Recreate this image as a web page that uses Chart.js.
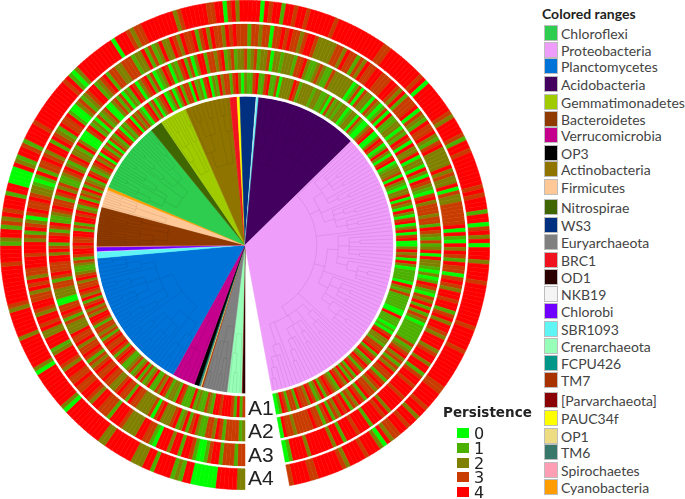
<!DOCTYPE html>
<html>
<head>
<meta charset="utf-8">
<title>Persistence tree</title>
<script src="https://cdn.jsdelivr.net/npm/chart.js@4"></script>
<style>
  html, body { margin: 0; background: #fff; }
  #page { position: relative; width: 685px; height: 499px; overflow: hidden; }
  #grafico { position: absolute; left: 0; top: 0; filter: blur(0.6px); }
  .txt { position: absolute; white-space: nowrap; line-height: 1; color: #444; }
  .cat { font: 14px Lato, sans-serif; }
  .sw { position: absolute; box-sizing: border-box; border: 1px solid #bdbdbd; }
  .ringlab { font: 21px "Liberation Sans", sans-serif; color: #222; }
  .perlab { font: 16px "DejaVu Sans", sans-serif; color: #222; }
</style>
</head>
<body>
<div id="page">
  <canvas id="grafico" width="490" height="490"></canvas>
</div>
<script>
// legend, same order as the picture
const phyla = ['Chloroflexi', 'Proteobacteria', 'Planctomycetes', 'Acidobacteria', 'Gemmatimonadetes',
  'Bacteroidetes', 'Verrucomicrobia', 'OP3', 'Actinobacteria', 'Firmicutes', 'Nitrospirae', 'WS3',
  'Euryarchaeota', 'BRC1', 'OD1', 'NKB19', 'Chlorobi', 'SBR1093', 'Crenarchaeota', 'FCPU426', 'TM7',
  '[Parvarchaeota]', 'PAUC34f', 'OP1', 'TM6', 'Spirochaetes', 'Cyanobacteria'];
const phylaColors = ['#2ecc4f', '#ee9dfb', '#0073d9', '#43005f', '#9fcb00',
  '#8f3a00', '#c4008c', '#000000', '#8f7500', '#ffc896', '#3f6600', '#00307f',
  '#808080', '#f0121e', '#2a0000', '#f4f4f4', '#7000ff', '#5ff5f5', '#98ffb8', '#009688', '#a83200',
  '#8b0000', '#ffff00', '#eedc82', '#38786a', '#ff9db4', '#ff9c00'];
const legendRows = [33, 49.5, 66, 84, 101.5, 119, 135, 153, 169, 187, 207, 225, 242,
  260, 277, 294, 311, 329, 346, 363, 380, 400, 418, 436, 452, 470, 487];

// clades round the inner circle, clockwise from the gap, in degrees
const cladeNames = ['OD1', '[Parvarchaeota]', 'Crenarchaeota', 'Euryarchaeota', 'TM7', 'OP1', 'TM6', 'FCPU426', 'OP3',
  'Verrucomicrobia', 'Planctomycetes', 'SBR1093', 'NKB19', 'Chlorobi', 'Spirochaetes', 'Bacteroidetes', 'Firmicutes',
  'Cyanobacteria', 'Chloroflexi', 'Nitrospirae', 'Gemmatimonadetes', 'Actinobacteria', 'BRC1', 'PAUC34f', 'WS3',
  'NKB19', 'SBR1093', 'Acidobacteria', 'Proteobacteria'];
const cladeDegrees = [1.0, 0.3, 5.7, 9.5, 0.6, 0.4, 0.4, 0.3, 1.8,
  9.0, 55.9, 2.5, 0.2, 1.6, 0.3, 15.4, 7.0,
  1.1, 27.8, 4.9, 10.7, 17.7, 2.8, 1.1, 6.3,
  0.3, 0.7, 40.3, 123.9];

// persistence of each OTU per ring, read by eye, 10 OTUs per block, clockwise from the gap
const ringA1 = ['3141344434', '4123112141', '1134122134', '2311421314', '2132113431', '3433431323', '3134423243',
  '1423433243', '2112313443', '4334413144', '3421341324', '1321431234', '2304313032', '1430213403', '2310341302',
  '3401302413', '3041203402', '1423313420', '2113411341', '1302222431', '2222122112', '0312122012', '2031002340',
  '0243014203', '4012230421', '0224032042', '0340240340', '0242304201', '1110421311', '1110041110', '1034221334',
  '1341243134', '1314234123', '4314213423', '3413313410'].join('').split('').map(Number);
const ringA2 = ['2133331342', '3311243142', '1432224303', '2222334133', '4322334334', '3231343324', '3342223134',
  '3300222331', '3433344243', '1443134112', '3433134231', '1234213422', '1420003412', '0312300231', '3021430234',
  '1301243021', '3413024413', '3234123122', '3123122302', '2122213342', '1123211322', '2222013032', '2032013041',
  '1220214304', '2240220420', '4321034233', '3233143213', '1240422102', '0143103241', '4132011111', '1312342313',
  '2433134323', '3413423143', '4231431334', '3333323340'].join('').split('').map(Number);
const ringA3 = ['3313331443', '1001344144', '2444013344', '2222344413', '3344234433', '4334423444', '2144422434',
  '4234433243', '4233444344', '4231432034', '3343221014', '1334324414', '3214334100', '2312344123', '4133223331',
  '2241312422', '4324334134', '2433243433', '3133233033', '4343323443', '2222233243', '3132433443', '3344324133',
  '3403214334', '2134222224', '2322403223', '3333340410', '4243143303', '4324434413', '4244324442', '3442441344',
  '3444344442', '4344414443', '4441442444', '4442444410'].join('').split('').map(Number);
const ringA4 = ['2244444000', '0004412144', '4414422244', '4444422444', '4444444024', '4444444402', '4444444244',
  '4444234444', '4444434444', '1244132434', '4414400004', '2144314444', '3444444444', '4434102444', '4444444044',
  '4323344444', '4442344444', '4334403424', '4444043441', '4434434444', '4434444444', '4444433444', '4444443404',
  '4444444324', '4443144344', '4444443434', '4414403424', '0444244443', '4444444444', '3444443444', '4444443344',
  '4434424434', '4332402444', '3444423444', '4443344443'].join('').split('').map(Number);
const persistenceLevels = [0, 1, 2, 3, 4];
const persistenceColors = ['#00ff00', '#4cb000', '#808000', '#c83c00', '#ff0000'];

// leaf depths of the faint tree inside the bigger clades
const cladeTrees = {
  Proteobacteria: [3, 5, 6, 6, 7, 7, 6, 7, 7, 5, 6, 7, 7, 4, 5, 6, 7, 7, 5, 6, 7, 7, 6, 3, 5, 6, 7, 7, 6, 6, 7, 7, 5, 6, 7, 8, 8, 7, 7,
    4, 5, 6, 7, 7, 6, 7, 7, 5, 6, 7, 8, 8, 7, 7, 3, 5, 6, 6, 7, 7, 4, 5, 6, 7, 7, 5, 6, 6, 7, 8, 8, 4, 6, 7, 7, 8, 9, 9],
  Planctomycetes: [5, 6, 7, 7, 6, 4, 5, 6, 6, 7, 7, 5, 6, 7, 7, 3, 5, 6, 7, 7, 4, 6, 6, 7, 7, 5, 6, 7, 7, 4, 5, 6, 6, 7, 7],
  Chloroflexi: [5, 6, 6, 7, 7, 4, 5, 6, 6, 7, 7, 3, 5, 6, 7, 7, 4, 6, 6, 5, 6, 7, 7],
  Acidobacteria: [4, 5, 6, 6, 3, 5, 6, 6, 5, 4, 5, 6, 6, 4, 5, 6, 6],
  Bacteroidetes: [5, 6, 6, 4, 6, 7, 7, 5, 6, 6, 3, 6, 7, 7, 5, 6, 6],
  Actinobacteria: [4, 6, 6, 5, 6, 6, 3, 6, 6, 5],
  Gemmatimonadetes: [4, 5, 6, 6, 5, 3, 5, 6, 6],
  Firmicutes: [3, 5, 6, 6, 5, 6, 6],
  Euryarchaeota: [3, 5, 6, 6, 4, 5, 6, 6],
  Verrucomicrobia: [3, 5, 6, 6, 5],
  Crenarchaeota: [3, 5, 5, 4]
};

function corDoCampo(nome) {
  return phylaColors[phyla.indexOf(nome)];
}

// merges neighbouring leaves upward and draws the arcs and spokes of one clade
function desenharArvore(ctx, arc, folhas) {
  const passo = (arc.endAngle - arc.startAngle) / folhas.length;
  const rTopo = arc.outerRadius - 1;
  const maxD = Math.max(...folhas);
  const raio = d => rTopo * (0.34 + 0.66 * d / maxD);
  let nos = folhas.map((d, i) => ({ d, ang: arc.startAngle + passo * (i + 0.5), r: rTopo }));

  while (nos.length > 1) {
    const topo = Math.max(...nos.map(n => n.d));
    const proximos = [];
    for (let i = 0; i < nos.length; i++) {
      if (nos[i].d !== topo) { proximos.push(nos[i]); continue; }
      let j = i;
      while (j + 1 < nos.length && nos[j + 1].d === topo) j++;
      const rPai = raio(topo - 1);
      ctx.beginPath();
      for (let k = i; k <= j; k++) {
        ctx.moveTo(arc.x + Math.cos(nos[k].ang) * nos[k].r, arc.y + Math.sin(nos[k].ang) * nos[k].r);
        ctx.lineTo(arc.x + Math.cos(nos[k].ang) * rPai, arc.y + Math.sin(nos[k].ang) * rPai);
      }
      if (j > i) {
        ctx.moveTo(arc.x + Math.cos(nos[i].ang) * rPai, arc.y + Math.sin(nos[i].ang) * rPai);
        ctx.arc(arc.x, arc.y, rPai, nos[i].ang, nos[j].ang);
      }
      ctx.stroke();
      proximos.push({ d: topo - 1, ang: (nos[i].ang + nos[j].ang) / 2, r: rPai });
      i = j;
    }
    nos = proximos;
  }
}

const pluginArvore = {
  id: 'arvore',
  afterDatasetsDraw(chart) {
    const ctx = chart.ctx;
    const arcos = chart.getDatasetMeta(8).data;
    ctx.save();
    ctx.lineWidth = 0.8;
    cladeNames.forEach((nome, i) => {
      if (!cladeTrees[nome]) return;
      ctx.strokeStyle = nome === 'Proteobacteria' ? 'rgba(110,40,120,0.16)' : 'rgba(0,0,0,0.1)';
      desenharArvore(ctx, arcos[i], cladeTrees[nome]);
    });
    ctx.restore();
  }
};

function anel(valores, peso) {
  const cores = valores.map(v => persistenceColors[v]);
  return { data: valores.map(() => 1), backgroundColor: cores, borderColor: cores, borderWidth: 0.5, weight: peso };
}

function folga(peso) {
  return { data: [1], backgroundColor: '#ffffff', borderWidth: 0, weight: peso };
}

const coresClados = cladeNames.map(corDoCampo);

new Chart(document.getElementById('grafico'), {
  type: 'doughnut',
  data: {
    labels: cladeNames,
    datasets: [
      anel(ringA4, 21), folga(2.5),
      anel(ringA3, 22), folga(2.5),
      anel(ringA2, 21), folga(3),
      anel(ringA1, 21), folga(3),
      { data: cladeDegrees, backgroundColor: coresClados, borderColor: coresClados, borderWidth: 0.5, weight: 148 }
    ]
  },
  options: {
    responsive: false,
    animation: false,
    cutout: 0,
    rotation: 180,
    circumference: 349.5,
    layout: { padding: 0 },
    plugins: { legend: { display: false }, tooltip: { enabled: false } }
  },
  plugins: [pluginArvore]
});

// text and legends
const page = document.getElementById('page');

function texto(str, x, yMeio, classe, extra) {
  const el = document.createElement('div');
  el.className = 'txt ' + classe;
  el.textContent = str;
  el.style.left = x + 'px';
  el.style.top = yMeio + 'px';
  el.style.transform = 'translateY(-50%)';
  if (extra) el.style.cssText += extra;
  page.appendChild(el);
}

function quadrado(cor, x, y, w, h, semBorda) {
  const el = document.createElement('div');
  el.className = 'sw';
  el.style.cssText = `left:${x}px;top:${y}px;width:${w}px;height:${h}px;background:${cor};` + (semBorda ? 'border:none;' : '');
  page.appendChild(el);
}

texto('Colored ranges', 542, 13, 'cat', 'font-weight:700;color:#222;');
phyla.forEach((nome, i) => {
  quadrado(phylaColors[i], 544, legendRows[i] - 8, 14, 16);
  texto(nome, 561, legendRows[i], 'cat');
});

texto('Persistence', 443, 412, 'perlab', 'font-weight:700;font-size:13.5px;');
persistenceLevels.forEach((nivel, i) => {
  const y = 433 + i * 14.8;
  quadrado(persistenceColors[i], 457, y - 5, 12, 10, true);
  texto(String(nivel), 474, y, 'perlab');
});

['A1', 'A2', 'A3', 'A4'].forEach((nome, i) => {
  texto(nome, 248, 408 + i * 23.4, 'ringlab');
});
</script>
</body>
</html>
